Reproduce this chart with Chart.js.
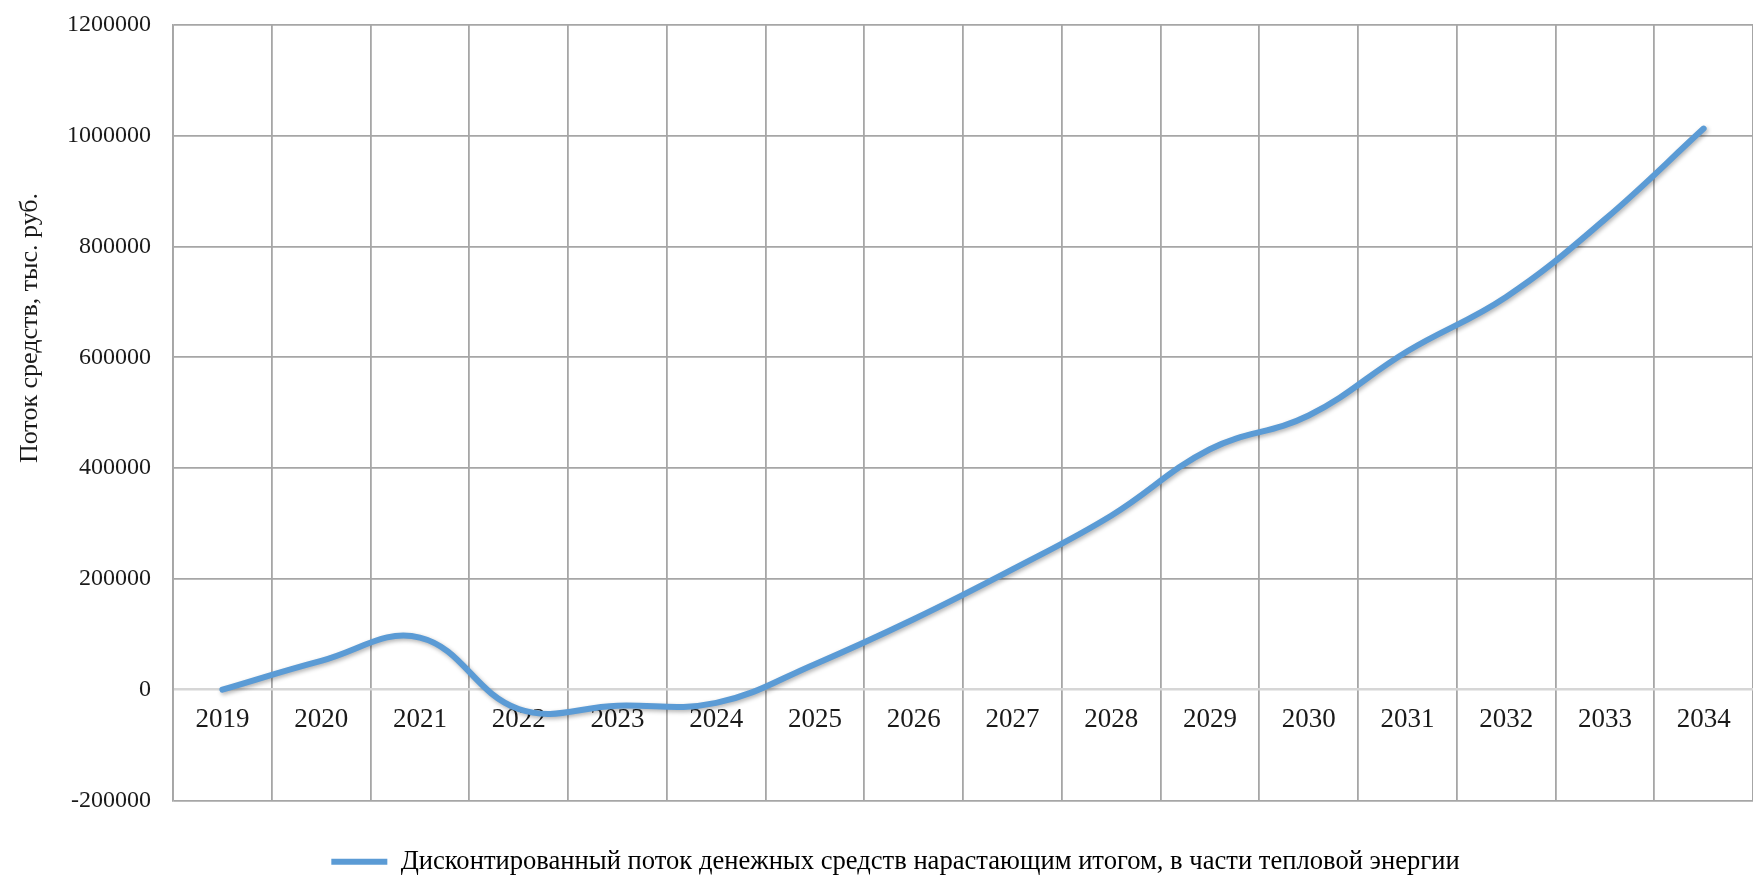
<!DOCTYPE html>
<html lang="ru">
<head>
<meta charset="utf-8">
<title>Дисконтированный поток денежных средств</title>
<script src="https://cdn.jsdelivr.net/npm/chart.js@4.4.1/dist/chart.umd.min.js"></script>
<style>
  html, body { margin: 0; padding: 0; background: #fff; }
  #wrap { width: 1753px; height: 885px; }
</style>
</head>
<body>
<div id="wrap"><canvas id="flowChart" width="1753" height="885"></canvas></div>
<script>
// years on the x axis
const years = ['2019', '2020', '2021', '2022', '2023', '2024', '2025', '2026',
               '2027', '2028', '2029', '2030', '2031', '2032', '2033', '2034'];

// cumulative discounted cash flow, thousand rubles
const cumulativeFlow = [0, 52000, 94000, -35000, -29000, -24000, 46000, 127000,
                        217000, 314000, 434000, 495000, 611000, 709000, 849000, 1013000];

const seriesName = 'Дисконтированный поток денежных средств нарастающим итогом, в части тепловой энергии';
const axisTitle = 'Поток средств, тыс. руб.';
const yMin = -200000;
const yMax = 1200000;
const yStep = 200000;

const serif = '"Liberation Serif", "Times New Roman", serif';
const lineColor = '#5b9bd5';
const textColor = '#1a1a1a';

// soft shadow under the curve
const lineShadow = {
    id: 'lineShadow',
    beforeDatasetsDraw(chart) {
        const c = chart.ctx;
        c.save();
        c.shadowColor = 'rgba(0, 0, 0, 0.3)';
        c.shadowBlur = 4;
        c.shadowOffsetX = 1.5;
        c.shadowOffsetY = 2;
    },
    afterDatasetsDraw(chart) {
        chart.ctx.restore();
    }
};

// vertical axis caption, sits a bit above the middle of the plot
const yCaption = {
    id: 'yCaption',
    afterDraw(chart) {
        const c = chart.ctx;
        c.save();
        c.translate(30, 328);
        c.rotate(-Math.PI / 2);
        c.font = '26px ' + serif;
        c.fillStyle = textColor;
        c.textAlign = 'center';
        c.textBaseline = 'middle';
        c.fillText(axisTitle, 0, 0);
        c.restore();
    }
};

const ctx = document.getElementById('flowChart').getContext('2d');
new Chart(ctx, {
    type: 'line',
    data: {
        labels: years,
        datasets: [{
            label: seriesName,
            data: cumulativeFlow,
            borderColor: lineColor,
            backgroundColor: lineColor,
            borderWidth: 6,
            borderCapStyle: 'round',
            tension: 0.4,
            pointRadius: 0,
            pointHoverRadius: 0,
            fill: false
        }]
    },
    options: {
        responsive: false,
        animation: false,
        layout: {
            padding: { left: 38, right: 0, top: 25, bottom: 0 }
        },
        plugins: {
            tooltip: { enabled: false },
            legend: {
                position: 'bottom',
                labels: {
                    font: { family: serif, size: 26.6 },
                    color: textColor,
                    padding: 48,
                    boxWidth: 56,
                    boxHeight: 6,
                    useBorderRadius: true,
                    borderRadius: 3,
                    generateLabels: chart => [{
                        text: seriesName,
                        fillStyle: lineColor,
                        strokeStyle: lineColor,
                        lineWidth: 0,
                        datasetIndex: 0
                    }]
                }
            }
        },
        scales: {
            x: {
                position: { y: 0 },
                offset: true,
                grid: {
                    offset: true,
                    color: '#a6a6a6',
                    lineWidth: 1.8,
                    drawTicks: false
                },
                border: { display: false },
                ticks: {
                    font: { family: serif, size: 27 },
                    color: textColor,
                    padding: 14,
                    maxRotation: 0,
                    autoSkip: false
                }
            },
            y: {
                min: yMin,
                max: yMax,
                afterFit(scale) {
                    scale.width = 135;
                    // labels may overhang the plot edges, no extra room needed
                    scale.paddingTop = 0;
                    scale.paddingBottom = 0;
                },
                grid: {
                    color: c => c.tick && c.tick.value === 0 ? '#d6d6d6' : '#a6a6a6',
                    lineWidth: c => c.tick && c.tick.value === 0 ? 2.5 : 1.8,
                    drawTicks: false
                },
                border: { color: '#a6a6a6', width: 1.8 },
                ticks: {
                    stepSize: yStep,
                    font: { family: serif, size: 24 },
                    color: textColor,
                    padding: 22,
                    callback: v => String(v)
                }
            }
        }
    },
    plugins: [lineShadow, yCaption]
});
</script>
</body>
</html>
